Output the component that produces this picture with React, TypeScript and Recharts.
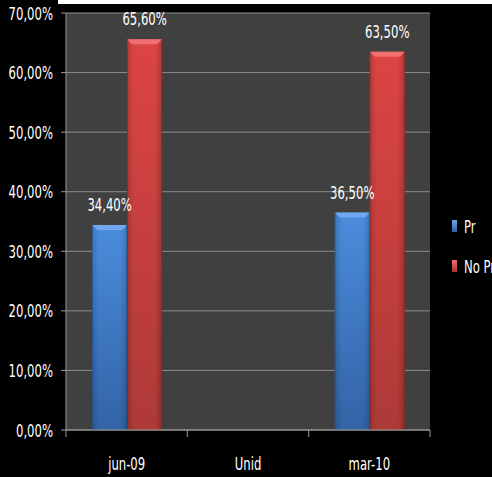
import React from 'react';
import { BarChart, Bar, XAxis, YAxis, CartesianGrid, LabelList, Legend } from 'recharts';

const categories = ['jun-09', 'Unid', 'mar-10'];
const prValues = [34.4, null, 36.5];
const noPrValues = [65.6, null, 63.5];
const yTicks = [0, 10, 20, 30, 40, 50, 60, 70];
const seriesNames = ['Pr', 'No Pr'];

const data = categories.map((c, i) => ({ name: c, pr: prValues[i], nopr: noPrValues[i] }));

const FONT = '"DejaVu Sans Condensed", "Liberation Sans Narrow", "DejaVu Sans", sans-serif';
const SX = 0.72;
const FS = 18;
const fmt = (v: any) => (v == null ? '' : Number(v).toFixed(2).replace('.', ',') + '%');

const NarrowText = ({ x, y, anchor, children }: any) => (
  <text
    transform={`translate(${x} ${y}) scale(${SX} 1)`}
    textAnchor={anchor}
    fill="#ffffff"
    fontSize={FS}
    fontFamily={FONT}
  >
    {children}
  </text>
);

const makeShape = (id: string, bevel: string, edge: string) => (props: any) => {
  const { x, y, width, height } = props;
  if (height == null || height <= 0) return null;
  const b = Math.min(5, height);
  return (
    <g>
      <rect x={x} y={y} width={width} height={height} fill={`url(#${id})`} />
      <rect x={x} y={y} width={width} height={height} fill={`url(#${id}-h)`} />
      <polygon
        points={`${x},${y} ${x + width},${y} ${x + width - 5},${y + b} ${x + 5},${y + b}`}
        fill={bevel}
      />
      <rect x={x} y={y} width={1} height={height} fill={edge} opacity={0.5} />
      <rect x={x + width - 1} y={y} width={1} height={height} fill={edge} opacity={0.5} />
    </g>
  );
};

const BlueShape = makeShape('gblue', '#6fa8ee', '#1f4a80');
const RedShape = makeShape('gred', '#f07070', '#7a2020');

const XTick = (props: any) => {
  const { x, y, payload, index } = props;
  const off = payload.offset || 0;
  const axisY = y - 8;
  return (
    <g>
      <line x1={x - off} y1={axisY} x2={x - off} y2={axisY + 7} stroke="#9a9a9a" strokeWidth={1} />
      {index === categories.length - 1 && (
        <line x1={x + off} y1={axisY} x2={x + off} y2={axisY + 7} stroke="#9a9a9a" strokeWidth={1} />
      )}
      <NarrowText x={x} y={axisY + 40} anchor="middle">
        {payload.value}
      </NarrowText>
    </g>
  );
};

const YTick = (props: any) => {
  const { x, y, payload } = props;
  return (
    <NarrowText x={x} y={y + 6.5} anchor="end">
      {fmt(payload.value)}
    </NarrowText>
  );
};

const TopLabel = (props: any) => {
  const { x, y, width, value } = props;
  if (value == null) return null;
  return (
    <NarrowText x={x + width / 2} y={y - 14} anchor="middle">
      {fmt(value)}
    </NarrowText>
  );
};

const LegendContent = () => (
  <div style={{ fontFamily: FONT, fontSize: FS, color: '#fff' }}>
    {seriesNames.map((n, i) => (
      <div key={n} style={{ display: 'flex', alignItems: 'center', height: 20, marginBottom: i === 0 ? 20 : 0, whiteSpace: 'nowrap' }}>
        <div
          style={{
            width: 5,
            height: 12,
            marginRight: 7,
            flex: 'none',
            background: i === 0 ? 'linear-gradient(#6fa8ee, #2f5fa0)' : 'linear-gradient(#f07070, #a83030)',
          }}
        />
        <span style={{ display: 'inline-block', transform: `scaleX(${SX})`, transformOrigin: 'left center' }}>{n}</span>
      </div>
    ))}
  </div>
);

export default function App() {
  return (
    <div style={{ position: 'absolute', left: 0, top: 0, width: 492, height: 477, background: '#000', overflow: 'hidden' }}>
      <div style={{ position: 'absolute', left: 58, top: 0, width: 434, height: 4, background: '#fff' }} />
      <BarChart
        width={492}
        height={477}
        data={data}
        margin={{ top: 13, right: 62, bottom: 17, left: 0 }}
        barCategoryGap="21.5%"
        barGap={0}
      >
        <defs>
          <linearGradient id="gblue" x1="0" y1="0" x2="0" y2="1">
            <stop offset="0%" stopColor="#4a8ddc" />
            <stop offset="100%" stopColor="#3363a6" />
          </linearGradient>
          <linearGradient id="gblue-h" x1="0" y1="0" x2="1" y2="0">
            <stop offset="0%" stopColor="#000" stopOpacity={0.15} />
            <stop offset="20%" stopColor="#000" stopOpacity={0} />
            <stop offset="80%" stopColor="#000" stopOpacity={0} />
            <stop offset="100%" stopColor="#000" stopOpacity={0.15} />
          </linearGradient>
          <linearGradient id="gred" x1="0" y1="0" x2="0" y2="1">
            <stop offset="0%" stopColor="#dc4543" />
            <stop offset="100%" stopColor="#ad3a37" />
          </linearGradient>
          <linearGradient id="gred-h" x1="0" y1="0" x2="1" y2="0">
            <stop offset="0%" stopColor="#000" stopOpacity={0.15} />
            <stop offset="20%" stopColor="#000" stopOpacity={0} />
            <stop offset="80%" stopColor="#000" stopOpacity={0} />
            <stop offset="100%" stopColor="#000" stopOpacity={0.2} />
          </linearGradient>
        </defs>
        <CartesianGrid vertical={false} stroke="#8c8c8c" fill="#404040" />
        <XAxis
          dataKey="name"
          height={30}
          axisLine={{ stroke: '#9a9a9a' }}
          tickLine={false}
          tick={<XTick />}
          interval={0}
        />
        <YAxis
          width={66}
          domain={[0, 70]}
          ticks={yTicks}
          axisLine={{ stroke: '#9a9a9a' }}
          tickLine={{ stroke: '#9a9a9a' }}
          tickSize={5}
          tickMargin={8}
          tick={<YTick />}
          interval={0}
        />
        <Legend
          layout="vertical"
          align="center"
          verticalAlign="middle"
          content={<LegendContent />}
          wrapperStyle={{ left: 452, top: 216, width: 60 }}
        />
        <Bar dataKey="pr" name="Pr" fill="#3f7fd0" shape={BlueShape} isAnimationActive={false}>
          <LabelList dataKey="pr" content={<TopLabel />} />
        </Bar>
        <Bar dataKey="nopr" name="No Pr" fill="#d94040" shape={RedShape} isAnimationActive={false}>
          <LabelList dataKey="nopr" content={<TopLabel />} />
        </Bar>
      </BarChart>
    </div>
  );
}
